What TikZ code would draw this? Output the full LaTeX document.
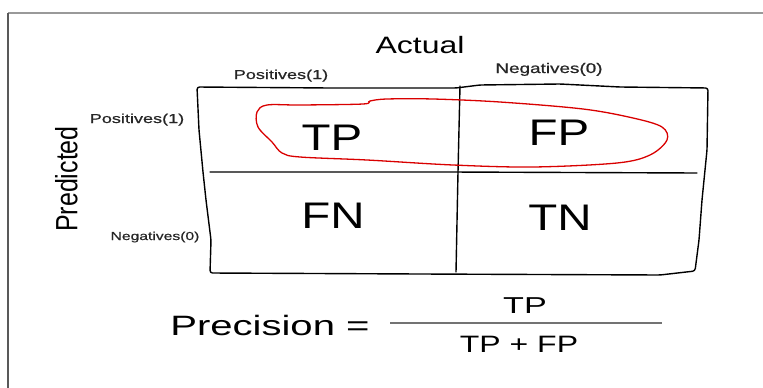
\documentclass[tikz,border=0pt]{standalone}
\usepackage{fontspec}
\setmainfont{Liberation Sans}
\newfontfamily\labelfont[FakeBold=0.6]{Liberation Sans}
\begin{document}
\begin{tikzpicture}[x=1pt,y=-1pt,
    grid/.style={line width=1.4pt, line join=round, line cap=round, rounded corners=2.5pt},
    wide/.style={xscale=1.35, inner sep=0pt, anchor=base},
    cell/.style={wide, xscale=0.95, font=\fontsize{37}{40}\selectfont},
    classlbl/.style={wide, text=black!85}]
    \useasboundingbox (0,0) rectangle (763,388);

    % Frame lines
    \draw[black!40, line width=1.4pt] (8,13) -- (763,13);
    \draw[black!65, line width=2.4pt] (8,13) -- (8,388);

    % Axis titles
    \node[wide, font=\fontsize{23.7}{26}\selectfont] (actual) at (420,53) {Actual};
    \node[xscale=1.23, rotate=90, inner sep=0pt, font=\fontsize{25}{27}\selectfont] (predicted) at (66.5,179) {Predicted};

    % Class labels
    \node[classlbl, xscale=1.03, font=\labelfont\fontsize{13}{15}\selectfont] (colpos) at (281,79) {Positives(1)};
    \node[classlbl, font=\labelfont\fontsize{14}{16}\selectfont] (colneg) at (549,73) {Negatives(0)};
    \node[classlbl, xscale=1.03, font=\labelfont\fontsize{13}{15}\selectfont] (rowpos) at (137,123) {Positives(1)};
    \node[classlbl, font=\labelfont\fontsize{11.6}{13}\selectfont] (rowneg) at (155,240) {Negatives(0)};

    % Outer box, hand drawn
    \draw[grid] (197,87) -- (330,88) -- (456,88) -- (480,85) -- (560,84)
        -- (620,87) -- (708,88) -- (707,150) -- (702,200) -- (699,240)
        -- (695,271) -- (660,275) -- (420,274) -- (210,273) -- (211,240)
        -- (206,200) -- (203,172) -- (199,130) -- cycle;
    % Row and column dividers
    \draw[grid] (210,172) -- (450,172) -- (697,173);
    \draw[grid] (460,86) -- (458,172) -- (456,272);

    % Cells
    \node[cell] (tp) at (332,150) {TP};
    \node[cell] (fp) at (559,145) {FP};
    \node[cell] (fn) at (333,228) {FN};
    \node[cell] (tn) at (560,230) {TN};

    % Loop round the predicted positives
    \draw[red!85!black, line width=1.3pt] plot[smooth cycle, tension=0.55] coordinates {
        (363,104) (300,105) (267,105) (257,112) (258,127) (272,142) (282,153)
        (300,157) (367,160) (453,165) (533,167) (617,163) (650,155) (667,140)
        (662,127) (633,118) (583,109) (500,102) (433,99) (387,99) (370,101)};

    % Precision = TP / (TP + FP)
    \node[wide, xscale=1.06, anchor=base west, font=\fontsize{28}{30}\selectfont] (prec) at (170,335) {Precision =};
    \node[wide, xscale=1.1, font=\fontsize{23}{25}\selectfont] (num) at (525,313) {TP};
    \node[wide, font=\fontsize{23.7}{26}\selectfont] (den) at (519,352) {TP + FP};
    \coordinate (barl) at (390,323);
    \coordinate (barr) at (662,323);
    \draw[black!55, line width=1.1pt] (barl) -- (barr);
\end{tikzpicture}
\end{document}
